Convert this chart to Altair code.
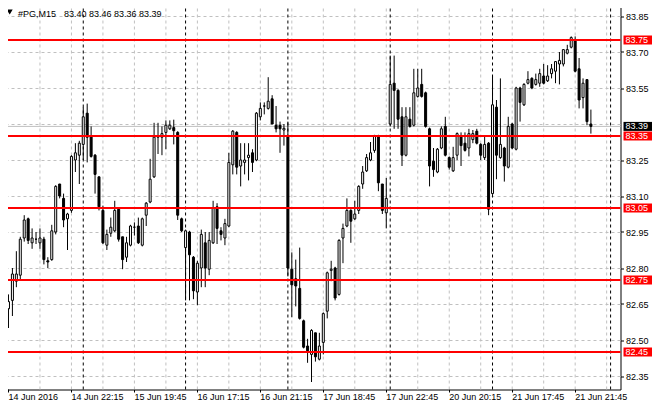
import json
import altair as alt
import pandas as pd

# ---------------- data ----------------
opens = [82.63, 82.665, 82.745, 82.77, 82.925, 83.005, 82.905, 82.92, 82.905, 82.92,
         82.83, 82.835, 82.95, 83.15, 83.09, 83.005, 83.04, 83.25, 83.27, 83.315,
         83.445, 83.35, 83.27, 83.18, 83.04, 82.895, 82.945, 82.955, 83.045, 82.93,
         82.845, 82.895, 82.97, 82.975, 82.895, 83.02, 83.075, 83.18, 83.345, 83.345,
         83.365, 83.38, 83.385, 83.365, 83.005, 82.885, 82.95, 82.845, 82.70, 82.80,
         82.905, 82.795, 82.905, 83.055, 82.955, 82.925, 82.975, 83.23, 83.365, 83.225,
         83.24, 83.26, 83.28, 83.25, 83.43, 83.475, 83.465, 83.505, 83.395, 83.395,
         83.375, 83.35, 82.795, 82.755, 82.715, 82.58, 82.475, 82.44, 82.53, 82.42,
         82.49, 82.62, 82.79, 82.80, 82.69, 82.925, 82.975, 83.04, 83.005, 83.04,
         83.15, 83.205, 83.25, 83.29, 83.35, 83.15, 83.03, 83.40, 83.57, 83.54,
         83.43, 83.27, 83.42, 83.395, 83.515, 83.565, 83.53, 83.38, 83.245, 83.20,
         83.30, 83.39, 83.26, 83.205, 83.27, 83.35, 83.32, 83.30, 83.335, 83.37,
         83.315, 83.26, 83.32, 83.11, 83.47, 83.26, 83.30, 83.22, 83.40, 83.295,
         83.55, 83.48, 83.57, 83.59, 83.565, 83.57, 83.60, 83.58, 83.61, 83.62,
         83.65, 83.65, 83.695, 83.72, 83.75, 83.63, 83.51, 83.585, 83.40]
highs = [82.69, 82.80, 82.87, 82.93, 83.02, 83.01, 82.965, 82.95, 82.965, 82.93,
         82.845, 82.98, 83.145, 83.15, 83.11, 83.03, 83.27, 83.32, 83.33, 83.47,
         83.485, 83.39, 83.275, 83.18, 83.06, 82.96, 83.01, 83.08, 83.05, 82.93,
         82.93, 82.98, 82.99, 83.01, 83.01, 83.075, 83.255, 83.405, 83.405, 83.39,
         83.415, 83.415, 83.418, 83.37, 83.01, 82.96, 82.955, 82.85, 82.83, 82.96,
         82.95, 82.95, 83.08, 83.07, 82.97, 83.005, 83.28, 83.375, 83.37, 83.32,
         83.32, 83.32, 83.295, 83.45, 83.49, 83.49, 83.595, 83.52, 83.475, 83.41,
         83.40, 83.41, 82.865, 82.835, 82.885, 82.585, 82.505, 82.545, 82.53, 82.53,
         82.615, 82.785, 82.83, 82.805, 82.92, 82.985, 83.09, 83.045, 83.08, 83.145,
         83.225, 83.275, 83.325, 83.355, 83.355, 83.15, 83.175, 83.685, 83.685, 83.545,
         83.47, 83.47, 83.47, 83.63, 83.63, 83.63, 83.535, 83.385, 83.30, 83.30,
         83.39, 83.43, 83.265, 83.305, 83.365, 83.365, 83.365, 83.38, 83.375, 83.38,
         83.32, 83.35, 83.325, 83.60, 83.50, 83.59, 83.305, 83.43, 83.405, 83.555,
         83.555, 83.57, 83.62, 83.595, 83.61, 83.63, 83.65, 83.645, 83.65, 83.66,
         83.70, 83.71, 83.73, 83.765, 83.765, 83.675, 83.59, 83.585, 83.46]
lows = [82.55, 82.60, 82.72, 82.75, 82.91, 82.90, 82.88, 82.90, 82.88, 82.815,
        82.80, 82.83, 82.94, 83.09, 82.97, 82.875, 83.03, 83.20, 83.15, 83.25,
        83.24, 83.26, 83.11, 83.04, 82.90, 82.875, 82.93, 82.95, 82.91, 82.795,
        82.825, 82.89, 82.935, 82.90, 82.89, 82.975, 83.07, 83.175, 83.275, 83.27,
        83.295, 83.375, 83.315, 83.00, 82.95, 82.665, 82.665, 82.67, 82.645, 82.72,
        82.72, 82.77, 82.90, 82.90, 82.915, 82.895, 82.97, 83.19, 83.19, 83.14,
        83.19, 83.165, 83.20, 83.245, 83.415, 83.44, 83.46, 83.40, 83.365, 83.28,
        83.31, 82.765, 82.595, 82.64, 82.585, 82.465, 82.405, 82.325, 82.41, 82.415,
        82.44, 82.59, 82.745, 82.665, 82.685, 82.82, 82.97, 82.905, 83.00, 83.025,
        83.13, 83.20, 83.245, 83.28, 83.12, 83.025, 82.965, 83.39, 83.38, 83.38,
        83.225, 83.265, 83.385, 83.39, 83.51, 83.51, 83.385, 83.14, 83.18, 83.195,
        83.295, 83.265, 83.21, 83.20, 83.25, 83.225, 83.285, 83.265, 83.32, 83.315,
        83.25, 83.25, 83.02, 83.105, 83.17, 83.255, 83.16, 83.215, 83.295, 83.29,
        83.41, 83.475, 83.565, 83.545, 83.56, 83.555, 83.565, 83.575, 83.59, 83.57,
        83.565, 83.64, 83.69, 83.715, 83.615, 83.465, 83.465, 83.395, 83.36]
closes = [82.66, 82.775, 82.775, 82.92, 83.00, 82.915, 82.925, 82.92, 82.925, 82.835,
          82.825, 82.955, 83.14, 83.10, 83.00, 83.025, 83.265, 83.28, 83.32, 83.43,
          83.345, 83.265, 83.19, 83.055, 82.905, 82.94, 82.97, 83.04, 82.92, 82.835,
          82.905, 82.975, 82.97, 82.905, 83.005, 83.07, 83.17, 83.345, 83.35, 83.36,
          83.395, 83.395, 83.372, 83.02, 82.955, 82.955, 82.855, 82.705, 82.82, 82.94,
          82.80, 82.915, 83.05, 82.965, 82.94, 82.985, 83.24, 83.37, 83.22, 83.25,
          83.25, 83.27, 83.24, 83.445, 83.465, 83.475, 83.495, 83.40, 83.38, 83.38,
          83.382, 82.80, 82.73, 82.725, 82.59, 82.47, 82.455, 82.54, 82.43, 82.475,
          82.61, 82.78, 82.795, 82.675, 82.915, 82.965, 83.04, 82.995, 83.025, 83.14,
          83.20, 83.26, 83.28, 83.35, 83.155, 83.04, 83.09, 83.565, 83.54, 83.42,
          83.27, 83.43, 83.39, 83.53, 83.55, 83.515, 83.39, 83.225, 83.21, 83.295,
          83.38, 83.27, 83.22, 83.26, 83.36, 83.31, 83.29, 83.36, 83.36, 83.32,
          83.27, 83.315, 83.045, 83.48, 83.27, 83.315, 83.225, 83.39, 83.30, 83.55,
          83.49, 83.565, 83.585, 83.55, 83.585, 83.61, 83.57, 83.60, 83.63, 83.66,
          83.665, 83.71, 83.71, 83.76, 83.62, 83.50, 83.57, 83.41, 83.39]

x_tick_bars = [0, 16, 32, 48, 64, 80, 96, 112, 128, 144]
x_tick_labels = ["14 Jun 2016", "14 Jun 22:15", "15 Jun 19:45", "16 Jun 17:15",
                 "16 Jun 21:15", "17 Jun 18:45", "17 Jun 22:45", "20 Jun 20:15",
                 "21 Jun 17:45", "21 Jun 21:45"]
grid_bars = [8, 16, 24, 32, 40, 48, 56, 64, 72, 80, 88, 96, 104, 112, 120, 128,
             136, 144, 152]
day_sep_bars = [19, 45, 71, 97, 123, 153]
y_tick_values = [83.85, 83.70, 83.55, 83.25, 83.10, 82.95, 82.80, 82.65, 82.50, 82.35]
grid_prices = [83.85, 83.70, 83.55, 83.40, 83.25, 83.10, 82.95, 82.80, 82.65, 82.50, 82.35]
level_prices = [83.75, 83.35, 83.05, 82.75, 82.45]
bid_price = [83.39]
symbol_text = "#PG,M15"
ohlc_text = "83.40 83.46 83.36 83.39"

# ---------------- chart ----------------
FONT = "Liberation Sans"
FS = 9
W, H = 618, 387

candles = pd.DataFrame({"bar": list(range(len(opens))), "o": opens, "h": highs,
                        "l": lows, "c": closes})

xs = alt.Scale(domain=[-0.25, 154.25], nice=False, zero=False)
ys = alt.Scale(domain=[82.29375, 83.90625], nice=False, zero=False)

label_expr = (f"{json.dumps(x_tick_labels)}"
              f"[indexof({json.dumps(x_tick_bars)}, datum.value)]")

x_axis = alt.Axis(values=x_tick_bars, labelExpr=label_expr, title=None, grid=False,
                  domain=False, tickSize=3, tickColor="black", tickWidth=1,
                  labelAlign="left", labelBaseline="top", labelPadding=0,
                  labelFont=FONT, labelFontSize=FS, labelColor="black",
                  labelFlush=False, labelOverlap=False, translate=0)
y_axis = alt.Axis(orient="right", values=y_tick_values, format=".2f", title=None,
                  grid=False, domain=False, tickSize=3, tickColor="black", tickWidth=1,
                  labelPadding=2, labelFont=FONT, labelFontSize=FS, labelColor="black",
                  labelFlush=False, labelOverlap=False, translate=0.5)


def X(field):
    return alt.X(f"{field}:Q", scale=xs, axis=x_axis)


def Y(field):
    return alt.Y(f"{field}:Q", scale=ys, axis=y_axis)


grid_h = alt.Chart(pd.DataFrame({"p": grid_prices})).mark_rule(
    color="#c0c0c0", strokeWidth=1, strokeDash=[3, 3], yOffset=0.5).encode(y=Y("p"))
grid_v = alt.Chart(pd.DataFrame({"bar": grid_bars})).mark_rule(
    color="#c0c0c0", strokeWidth=1, strokeDash=[3, 3]).encode(x=X("bar"))
seps = alt.Chart(pd.DataFrame({"bar": day_sep_bars})).mark_rule(
    color="black", strokeWidth=1, strokeDash=[3, 3]).encode(x=X("bar"))
bid_line = alt.Chart(pd.DataFrame({"p": bid_price})).mark_rule(
    color="#c0c0c0", strokeWidth=1).encode(y=Y("p"))

wicks = alt.Chart(candles).mark_rule(color="black", strokeWidth=1).encode(
    x=X("bar"), y=Y("l"), y2="h")
bodies = alt.Chart(candles).mark_bar(width=2, stroke="black", strokeWidth=1).encode(
    x=X("bar"), y=Y("o"), y2="c",
    fill=alt.condition("datum.c >= datum.o", alt.value("white"), alt.value("black")))

levels_df = pd.DataFrame({"p": level_prices, "label": [f"{v:.2f}" for v in level_prices]})
levels = alt.Chart(levels_df).mark_rule(color="#ff0000", strokeWidth=2).encode(y=Y("p"))
level_tag = alt.Chart(levels_df).mark_rect(color="#ff0000", yOffset=-4.5, y2Offset=4.5).encode(
    x=alt.value(621), x2=alt.value(650), y=Y("p"), y2="p")
level_txt = alt.Chart(levels_df).mark_text(
    align="left", baseline="middle", color="white", font=FONT, fontSize=FS).encode(
    x=alt.value(623), y=Y("p"), text="label:N")

bid_df = pd.DataFrame({"p": bid_price, "label": [f"{v:.2f}" for v in bid_price]})
bid_tag = alt.Chart(bid_df).mark_rect(color="black", yOffset=-4.5, y2Offset=4.5).encode(
    x=alt.value(621), x2=alt.value(650), y=Y("p"), y2="p")
bid_txt = alt.Chart(bid_df).mark_text(
    align="left", baseline="middle", color="white", font=FONT, fontSize=FS).encode(
    x=alt.value(623), y=Y("p"), text="label:N")

one = pd.DataFrame({"k": [0]})
tri = alt.Chart(one).mark_point(shape="triangle-down", filled=True, color="black",
                                size=36, opacity=1).encode(x=alt.value(7.2), y=alt.value(9.5))
t1 = alt.Chart(one).mark_text(align="left", baseline="alphabetic", color="black",
                              font=FONT, fontSize=FS).encode(
    x=alt.value(15.5), y=alt.value(14), text=alt.value(symbol_text))
t2 = alt.Chart(one).mark_text(align="left", baseline="alphabetic", color="black",
                              font=FONT, fontSize=FS).encode(
    x=alt.value(61.5), y=alt.value(14), text=alt.value(ohlc_text))

chart = alt.layer(
    grid_h, grid_v, seps, bid_line, wicks, bodies, levels,
    level_tag, level_txt, bid_tag, bid_txt, tri, t1, t2
).properties(
    width=W, height=H,
    padding={"left": -5.5, "top": -5.5, "right": 31.5, "bottom": 12.5},
    autosize=alt.AutoSizeParams(type="none"),
    background="white",
).configure_view(stroke="black", strokeWidth=1)

chart.save("out.html", embed_options={"renderer": "svg", "actions": False})
